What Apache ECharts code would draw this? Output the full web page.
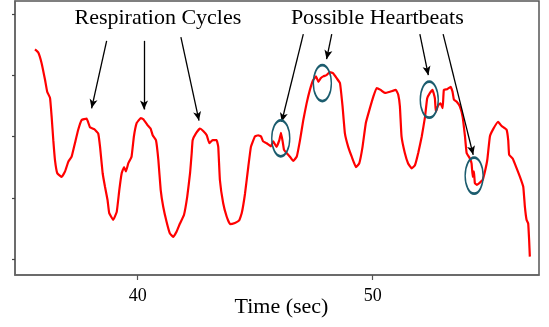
<!DOCTYPE html>
<html>
<head>
<meta charset="utf-8">
<script src="https://cdn.jsdelivr.net/npm/echarts@6/dist/echarts.min.js"></script>
<style>
  html, body { margin: 0; padding: 0; background: #fff; }
  #chart { width: 549px; height: 327px; }
</style>
</head>
<body>
<div id="chart"></div>
<script>
// Chest signal trace (arbitrary units) against time in seconds
var timeSec = [
  35.63, 35.77, 35.91, 36.06, 36.15, 36.27, 36.34, 36.41, 36.48, 36.58,
  36.77, 36.91, 37.05, 37.19, 37.33, 37.47, 37.62, 37.83, 37.97, 38.15,
  38.32, 38.40, 38.51, 38.61, 38.72, 38.79, 38.96, 39.11, 39.22, 39.32,
  39.42, 39.50, 39.60, 39.74, 39.84, 39.96, 40.13, 40.24, 40.41, 40.55,
  40.64, 40.78, 40.88, 40.98, 41.09, 41.23, 41.37, 41.51, 41.66, 41.80,
  41.97, 42.11, 42.23, 42.30, 42.34, 42.48, 42.65, 42.79, 42.94, 43.05,
  43.19, 43.36, 43.43, 43.50, 43.64, 43.79, 43.93, 44.14, 44.32, 44.43,
  44.57, 44.71, 44.82, 44.99, 45.13, 45.25, 45.34, 45.49, 45.67, 45.77,
  45.91, 46.03, 46.10, 46.17, 46.23, 46.34, 46.48, 46.62, 46.77, 46.91,
  47.05, 47.19, 47.33, 47.47, 47.59, 47.69, 47.79, 47.90, 48.04, 48.18,
  48.32, 48.47, 48.61, 48.72, 48.82, 48.96, 49.11, 49.29, 49.43, 49.57,
  49.71, 49.86, 50.03, 50.17, 50.34, 50.52, 50.74, 50.99, 51.09, 51.16,
  51.23, 51.37, 51.51, 51.66, 51.80, 51.94, 52.09, 52.23, 52.32, 52.44,
  52.55, 52.65, 52.69, 52.79, 52.89, 52.98, 53.03, 53.17, 53.32, 53.40,
  53.46, 53.57, 53.71, 53.83, 53.93, 54.00, 54.14, 54.21, 54.26, 54.31,
  54.35, 54.43, 54.54, 54.68, 54.78, 54.88, 54.99, 55.13, 55.34, 55.49,
  55.70, 55.77, 55.81, 55.96, 56.13, 56.27, 56.41, 56.48, 56.55, 56.62,
  56.66, 56.69
];
var signal = [
  3.42, 3.37, 3.20, 2.92, 2.73, 2.63, 2.32, 1.94, 1.62, 1.40,
  1.34, 1.43, 1.59, 1.67, 1.89, 2.11, 2.27, 2.29, 2.15, 2.12,
  2.05, 1.83, 1.40, 1.18, 0.96, 0.75, 0.64, 0.77, 1.13, 1.40,
  1.50, 1.43, 1.56, 1.67, 2.00, 2.22, 2.30, 2.28, 2.19, 2.13,
  2.02, 1.94, 1.62, 1.13, 0.85, 0.61, 0.42, 0.36, 0.45, 0.58,
  0.72, 1.02, 1.40, 1.73, 1.94, 2.05, 2.13, 2.09, 2.02, 1.89,
  1.94, 1.94, 1.83, 1.29, 0.91, 0.69, 0.57, 0.59, 0.63, 0.75,
  1.07, 1.51, 1.83, 2.00, 2.02, 2.00, 1.92, 1.89, 1.84, 1.92,
  1.83, 1.94, 2.06, 1.92, 1.78, 1.73, 1.67, 1.60, 1.67, 1.94,
  2.27, 2.54, 2.76, 2.92, 2.98, 2.89, 2.95, 2.98, 3.00, 3.05,
  3.03, 2.95, 2.87, 2.49, 2.05, 1.83, 1.67, 1.50, 1.56, 1.83,
  2.22, 2.43, 2.65, 2.79, 2.76, 2.71, 2.73, 2.76, 2.68, 2.49,
  2.00, 1.73, 1.56, 1.48, 1.53, 1.73, 2.00, 2.32, 2.62, 2.71,
  2.76, 2.62, 2.40, 2.51, 2.54, 2.46, 2.76, 2.77, 2.81, 2.73,
  2.60, 2.57, 2.49, 2.32, 2.00, 1.73, 1.64, 1.56, 1.34, 1.43,
  1.24, 1.21, 1.24, 1.29, 1.43, 1.62, 2.00, 2.12, 2.24, 2.17,
  2.11, 1.94, 1.70, 1.64, 1.48, 1.34, 1.18, 0.85, 0.64, 0.58,
  0.31, 0.04
];

// Axis ticks
var xTicks = [40, 50];
var yTicks = [0, 1, 2, 3, 4];

// Annotation headings and their anchor points [time, value]
var headings = ['Respiration Cycles', 'Possible Heartbeats'];
var headingAnchors = [[40.86, 3.93], [50.20, 3.93]];

// Arrows: [from, to] in [time, value]
var respArrows = [
  [[38.68, 3.56], [38.04, 2.46]],
  [[40.27, 3.56], [40.27, 2.44]],
  [[41.84, 3.62], [42.61, 2.26]]
];
var beatArrows = [
  [[47.05, 3.67], [46.13, 2.24]],
  [[48.26, 3.67], [48.04, 3.26]],
  [[52.01, 3.67], [52.37, 3.00]],
  [[53.00, 3.67], [54.28, 1.70]]
];

// Centres of the circled heartbeat bumps [time, value]
var beatMarks = [[46.09, 1.97], [47.86, 2.87], [52.41, 2.60], [54.32, 1.36]];

var SERIF = '"Liberation Serif", "Times New Roman", serif';

var traceData = timeSec.map(function (t, i) { return [t, signal[i]]; });

var arrowLines = respArrows.concat(beatArrows).map(function (a) {
  return [{ coord: a[0] }, { coord: a[1] }];
});

var ellipsePoints = beatMarks.map(function (p) {
  return { coord: p };
});

var headingPoints = headings.map(function (h, i) {
  return {
    coord: headingAnchors[i],
    symbol: 'rect',
    symbolSize: 0,
    label: {
      show: true,
      position: 'inside',
      formatter: h,
      color: '#000',
      fontFamily: SERIF,
      fontSize: 22
    }
  };
});

var chart = echarts.init(document.getElementById('chart'), null, { renderer: 'canvas' });

chart.setOption({
  animation: false,
  backgroundColor: '#fff',
  grid: {
    left: 15, right: 10, top: 1, bottom: 52,
    containLabel: false,
    outerBoundsMode: 'none',
    show: true,
    borderColor: '#555',
    borderWidth: 1.5,
    backgroundColor: 'transparent'
  },
  xAxis: {
    type: 'value',
    min: 34.78,
    max: 57.08,
    name: 'Time (sec)',
    nameLocation: 'middle',
    nameGap: 21,
    nameMoveOverlap: false,
    nameTextStyle: { fontFamily: SERIF, fontSize: 22, color: '#000', padding: [0, 0, 0, 9] },
    axisLine: { show: true, onZero: false, lineStyle: { color: '#666', width: 1.5 } },
    axisTick: { show: true, inside: false, length: 5, customValues: xTicks, lineStyle: { color: '#555', width: 1.2 } },
    axisLabel: { show: true, customValues: xTicks, margin: 12, fontFamily: SERIF, fontSize: 18, color: '#000' },
    splitLine: { show: false }
  },
  yAxis: {
    type: 'value',
    min: -0.26,
    max: 4.21,
    axisLine: { show: true, onZero: false, lineStyle: { color: '#666', width: 1.5 } },
    axisTick: { show: true, inside: false, length: 3, customValues: yTicks, lineStyle: { color: '#444', width: 1.2 } },
    axisLabel: { show: false },
    splitLine: { show: false }
  },
  series: [
    {
      type: 'line',
      data: traceData,
      showSymbol: false,
      smooth: 0.1,
      lineStyle: { color: '#ff0000', width: 2.2 },
      silent: true,
      z: 3,
      markLine: {
        silent: true,
        symbol: ['none', 'arrow'],
        symbolSize: [6, 9],
        label: { show: false },
        lineStyle: { color: '#000', width: 1.3, type: 'solid' },
        data: arrowLines
      }
    },
    {
      type: 'scatter',
      data: [],
      silent: true,
      markPoint: {
        silent: true,
        symbol: 'circle',
        symbolSize: [18, 36],
        itemStyle: { color: 'rgba(0,0,0,0)', borderColor: '#1b5c6e', borderWidth: 2 },
        label: { show: false },
        data: ellipsePoints
      },
      z: 4
    },
    {
      type: 'scatter',
      data: [],
      silent: true,
      markPoint: {
        silent: true,
        data: headingPoints
      },
      z: 5
    }
  ]
});
</script>
</body>
</html>
